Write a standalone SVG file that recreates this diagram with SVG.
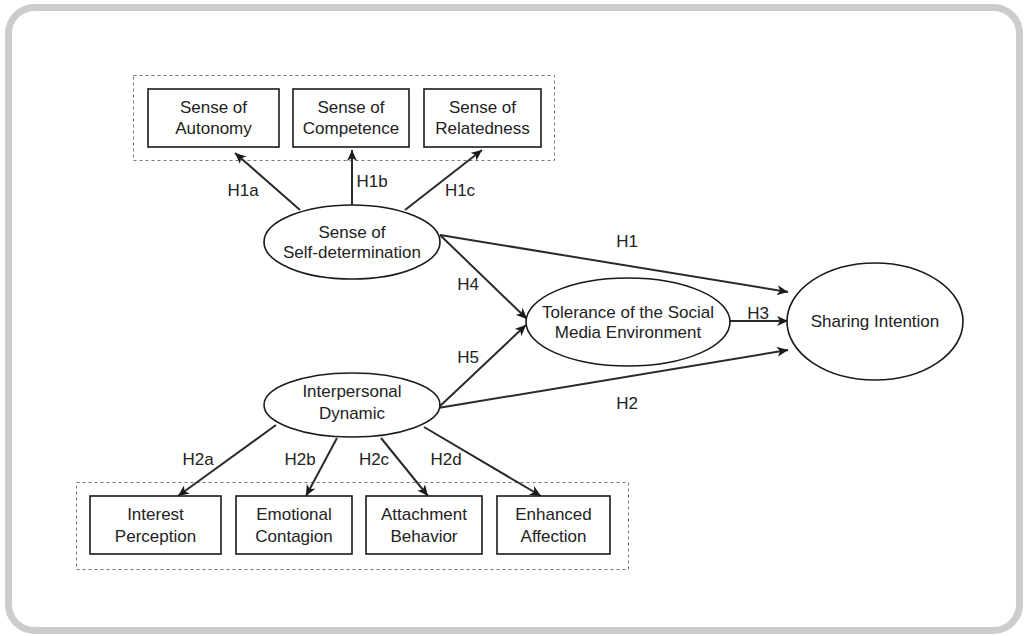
<svg xmlns="http://www.w3.org/2000/svg" width="1026" height="636" viewBox="0 0 1026 636">
<defs>
<marker id="arr" markerUnits="userSpaceOnUse" markerWidth="12" markerHeight="10" refX="11" refY="5" orient="auto">
<path d="M0,0 L11,5 L0,10 L3,5 Z" fill="#1a1a1a"/>
</marker>
<style>
.t{font-family:"Liberation Sans",Arial,sans-serif;font-size:17px;fill:#222;text-anchor:middle}
.box{fill:#fff;stroke:#1a1a1a;stroke-width:1.6}
.ell{fill:#fff;stroke:#1a1a1a;stroke-width:1.6}
.grp{fill:none;stroke:#777;stroke-width:1;stroke-dasharray:3 3}
.c{fill:none;stroke:#2a2a2a;stroke-width:2;marker-end:url(#arr)}
</style>
</defs>
<rect x="0" y="0" width="1026" height="636" fill="#fff"/>
<rect x="8.5" y="7.5" width="1011" height="623" rx="26" fill="#fff" stroke="#cccccc" stroke-width="7"/>
<rect class="grp" x="133.5" y="75.5" width="421" height="85"/>
<rect class="grp" x="76.5" y="482.5" width="552" height="87"/>
<g id="connectors">
<line class="c" x1="300" y1="210" x2="235" y2="153"/>
<line class="c" x1="352" y1="205" x2="352" y2="150"/>
<line class="c" x1="405" y1="210" x2="482" y2="150"/>
<line class="c" x1="440" y1="235" x2="788" y2="292"/>
<line class="c" x1="440" y1="235" x2="527" y2="319"/>
<line class="c" x1="438" y1="408" x2="526" y2="325"/>
<line class="c" x1="438" y1="408" x2="788" y2="350"/>
<line class="c" x1="730" y1="321" x2="788" y2="321"/>
<line class="c" x1="276" y1="425" x2="178" y2="496"/>
<line class="c" x1="337" y1="438" x2="306" y2="496"/>
<line class="c" x1="381" y1="438" x2="428" y2="496"/>
<line class="c" x1="424" y1="427" x2="541" y2="496"/>
<text class="t" x="243" y="196">H1a</text>
<text class="t" x="372" y="187">H1b</text>
<text class="t" x="460" y="196">H1c</text>
<text class="t" x="627" y="247">H1</text>
<text class="t" x="468" y="290">H4</text>
<text class="t" x="468" y="363">H5</text>
<text class="t" x="758" y="319">H3</text>
<text class="t" x="627" y="409">H2</text>
<text class="t" x="198" y="465">H2a</text>
<text class="t" x="300" y="465">H2b</text>
<text class="t" x="374" y="465">H2c</text>
<text class="t" x="446" y="465">H2d</text>
</g>
<g id="autonomy"><rect class="box" x="148" y="89" width="131" height="58"/><text class="t" x="213.5" y="113">Sense of</text><text class="t" x="213.5" y="134">Autonomy</text></g>
<g id="competence"><rect class="box" x="293" y="89" width="116" height="58"/><text class="t" x="351" y="113">Sense of</text><text class="t" x="351" y="134">Competence</text></g>
<g id="relatedness"><rect class="box" x="424" y="89" width="117" height="58"/><text class="t" x="482.5" y="113">Sense of</text><text class="t" x="482.5" y="134">Relatedness</text></g>
<g id="selfdet"><ellipse class="ell" cx="352" cy="242" rx="88" ry="37"/><text class="t" x="352" y="238">Sense of</text><text class="t" x="352" y="258">Self-determination</text></g>
<g id="tolerance"><ellipse class="ell" cx="628" cy="322" rx="102" ry="44"/><text class="t" x="628" y="318">Tolerance of the Social</text><text class="t" x="628" y="338">Media Environment</text></g>
<g id="sharing"><ellipse class="ell" cx="875" cy="321.5" rx="88" ry="58.5"/><text class="t" x="875" y="327">Sharing Intention</text></g>
<g id="interpersonal"><ellipse class="ell" cx="352" cy="405" rx="88" ry="32"/><text class="t" x="352" y="397">Interpersonal</text><text class="t" x="352" y="419">Dynamic</text></g>
<g id="interest"><rect class="box" x="90" y="496" width="131" height="58"/><text class="t" x="155.5" y="520">Interest</text><text class="t" x="155.5" y="542">Perception</text></g>
<g id="emotional"><rect class="box" x="236" y="496" width="116" height="58"/><text class="t" x="294" y="520">Emotional</text><text class="t" x="294" y="542">Contagion</text></g>
<g id="attachment"><rect class="box" x="366" y="496" width="116" height="58"/><text class="t" x="424" y="520">Attachment</text><text class="t" x="424" y="542">Behavior</text></g>
<g id="enhanced"><rect class="box" x="497" y="496" width="113" height="58"/><text class="t" x="553.5" y="520">Enhanced</text><text class="t" x="553.5" y="542">Affection</text></g>
</svg>
